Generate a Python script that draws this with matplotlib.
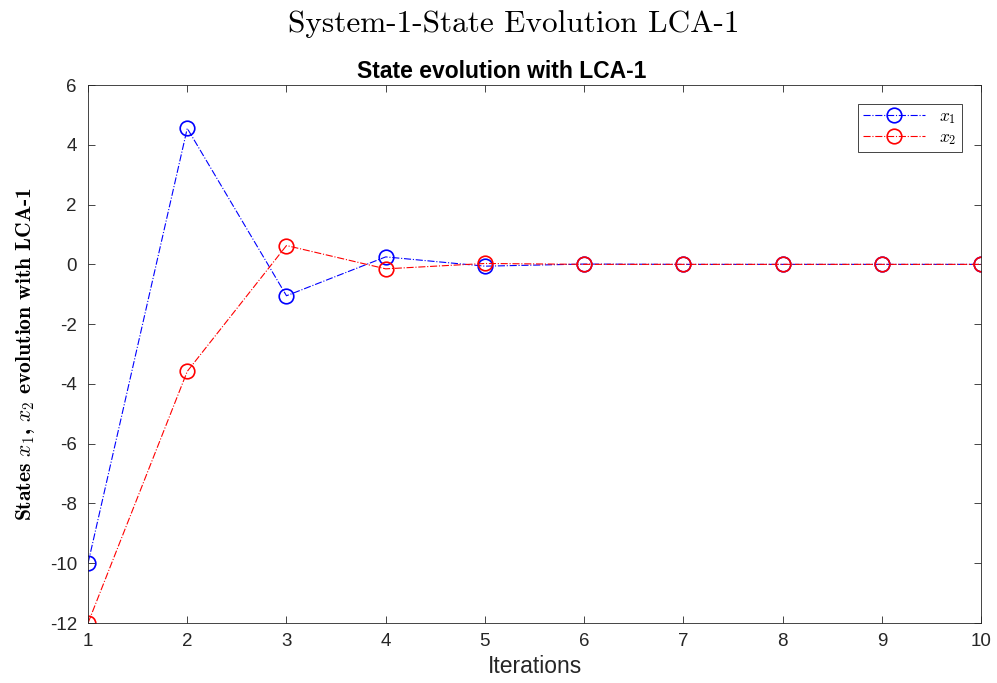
import matplotlib
matplotlib.use("Agg")
import matplotlib.pyplot as plt

iterations = [1, 2, 3, 4, 5, 6, 7, 8, 9, 10]
x1 = [-10.0, 4.55, -1.05, 0.25, -0.06, 0.01, 0.0, 0.0, 0.0, 0.0]
x2 = [-12.0, -3.58, 0.63, -0.15, 0.03, 0.0, 0.0, 0.0, 0.0, 0.0]
yticks = [-12, -10, -8, -6, -4, -2, 0, 2, 4, 6]

plt.rcParams['mathtext.fontset'] = 'cm'
plt.rcParams['font.family'] = ['Liberation Sans', 'DejaVu Sans']

fig = plt.figure(figsize=(9.97, 6.83), dpi=100)
ax = fig.add_axes([0.0883, 0.0878, 0.8957, 0.7877])

ax.plot(iterations, x1, color='#0000ff', linestyle='-.', linewidth=0.8,
        marker='o', markersize=10.5, markerfacecolor='none', markeredgewidth=1.2,
        label=r'$x_1$')
ax.plot(iterations, x2, color='#ff0000', linestyle='-.', linewidth=0.8,
        marker='o', markersize=10.5, markerfacecolor='none', markeredgewidth=1.2,
        label=r'$x_2$')

ax.set_xlim(1, 10)
ax.set_ylim(-12, 6)
ax.set_xticks(iterations)
ax.set_xticklabels([str(i) for i in iterations])
ax.set_yticks(yticks)
ax.set_yticklabels([str(v) for v in yticks])
ax.tick_params(direction='in', top=True, right=True, labelsize=13.5, length=5,
               width=0.6, colors='#262626')
ax.tick_params(axis='x', pad=7)
ax.tick_params(axis='y', pad=8)
for s in ax.spines.values():
    s.set_linewidth(0.6)
    s.set_color('#262626')

ax.set_title('State evolution with LCA-1', fontsize=16.5, fontweight='bold',
             pad=5, x=0.4636)
ax.set_xlabel('Iterations', fontsize=16.5, labelpad=4, color='#262626')
ax.set_ylabel(r'States $x_1$, $x_2$ evolution with LCA-1', fontsize=15.5,
              family='cmb10', labelpad=9)

leg = ax.legend(loc='upper right', fontsize=12.5, fancybox=False, framealpha=1,
                edgecolor='#262626', handlelength=3.6, borderaxespad=1.1,
                borderpad=0.3, labelspacing=0.2)
leg.get_frame().set_linewidth(0.6)

fig.suptitle('System-1-State Evolution LCA-1', fontsize=22.5, family='cmr10',
             x=0.515, y=0.985)

fig.savefig('out.png', dpi=100)
